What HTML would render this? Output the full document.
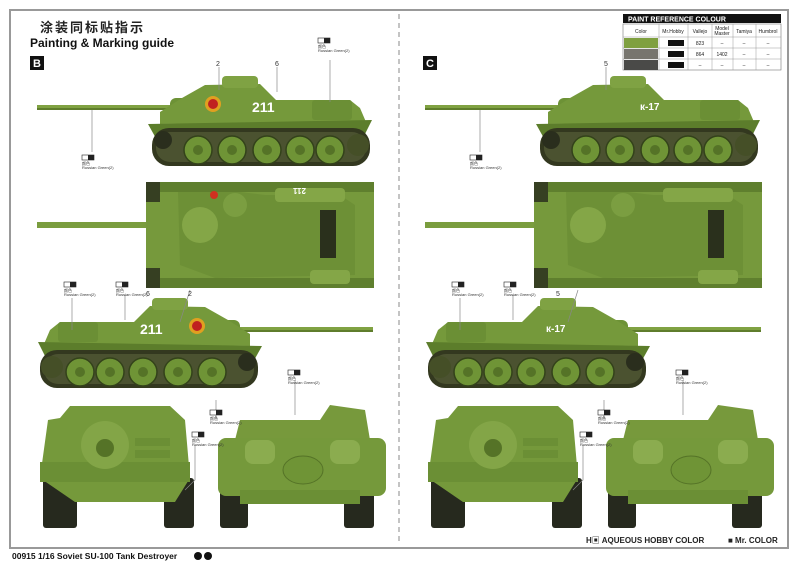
<!DOCTYPE html>
<html><head><meta charset="utf-8"><style>
html,body{margin:0;padding:0;background:#fff;}
svg{display:block;}
text{font-family:"Liberation Sans","Noto Sans CJK SC",sans-serif;}
</style></head><body>
<svg width="800" height="562" viewBox="0 0 800 562" xmlns="http://www.w3.org/2000/svg">
<defs>
<g id="side">
  <rect x="37" y="105" width="140" height="5" fill="#80a242"/>
  <rect x="37" y="108" width="140" height="2" fill="#5f7d2c"/>
  <rect x="170" y="98" width="25" height="16" rx="6" fill="#6d9236"/>
  <polygon points="182,98 205,85 260,84 276,100 350,100 360,108 366,122 160,124 160,112" fill="#75993b"/>
  <rect x="222" y="76" width="36" height="12" rx="4" fill="#7fa243"/>
  <rect x="312" y="100" width="40" height="20" rx="3" fill="#6b8f35"/>
  <polygon points="148,124 372,120 362,140 158,142" fill="#5c7d2b"/>
  <rect x="152" y="128" width="218" height="38" rx="17" fill="#33381f"/>
  <rect x="156" y="132" width="210" height="30" rx="14" fill="#4b5230"/>
  <g fill="#6f9436" stroke="#33421a" stroke-width="1.5">
    <circle cx="198" cy="150" r="14"/><circle cx="232" cy="150" r="14"/><circle cx="267" cy="150" r="14"/><circle cx="300" cy="150" r="14"/><circle cx="330" cy="150" r="14"/>
  </g>
  <g fill="#557327"><circle cx="198" cy="150" r="5"/><circle cx="232" cy="150" r="5"/><circle cx="267" cy="150" r="5"/><circle cx="300" cy="150" r="5"/><circle cx="330" cy="150" r="5"/></g>
  <circle cx="163" cy="140" r="9" fill="#2a2e1d"/><circle cx="358" cy="145" r="11" fill="#454f27"/>
</g>
<g id="top">
  <rect x="37" y="222" width="145" height="6" fill="#7a9d3e"/>
  <rect x="146" y="182" width="228" height="106" fill="#76993c"/>
  <rect x="146" y="182" width="228" height="10" fill="#5f7f2e"/>
  <rect x="146" y="278" width="228" height="10" fill="#5f7f2e"/>
  <rect x="146" y="182" width="14" height="20" fill="#363f22"/><rect x="146" y="268" width="14" height="20" fill="#363f22"/>
  <polygon points="178,192 240,192 265,195 340,195 355,205 355,275 215,278 180,265" fill="#6d9036"/>
  <circle cx="200" cy="225" r="18" fill="#84a647"/>
  <circle cx="235" cy="205" r="12" fill="#7b9e41"/>
  <rect x="320" y="210" width="16" height="48" fill="#2a301c"/>
  <rect x="275" y="188" width="70" height="14" rx="4" fill="#84a647"/>
  <rect x="310" y="270" width="40" height="14" rx="4" fill="#84a647"/>
</g>
<g id="front">
  <rect x="43" y="478" width="34" height="50" rx="3" fill="#26291e"/>
  <rect x="164" y="478" width="30" height="50" rx="3" fill="#26291e"/>
  <polygon points="60,418 70,406 170,406 185,420 190,478 175,502 75,502 40,478 48,420" fill="#75993b"/>
  <rect x="40" y="462" width="150" height="20" fill="#6b8f35"/>
  <circle cx="105" cy="445" r="24" fill="#83a547"/><circle cx="105" cy="448" r="9" fill="#557327"/>
  <rect x="135" y="438" width="35" height="8" fill="#6b8f35"/><rect x="135" y="450" width="35" height="8" fill="#6b8f35"/>
</g>
<g id="rear">
  <rect x="220" y="478" width="28" height="50" rx="3" fill="#26291e"/>
  <rect x="344" y="478" width="30" height="50" rx="3" fill="#26291e"/>
  <polygon points="235,440 240,420 320,420 330,405 365,410 370,440" fill="#77993c"/>
  <rect x="218" y="438" width="168" height="58" rx="8" fill="#75993b"/>
  <rect x="245" y="440" width="30" height="24" rx="8" fill="#8bac4f"/><rect x="330" y="440" width="30" height="24" rx="8" fill="#8bac4f"/>
  <ellipse cx="303" cy="470" rx="20" ry="14" fill="#6f9436" stroke="#557327"/>
  <rect x="240" y="490" width="120" height="14" fill="#6b8f35"/>
</g>
<g id="lbl" font-size="4" fill="#333">
  <rect x="0" y="0" width="12" height="5" fill="#fff" stroke="#222" stroke-width="0.6"/><rect x="6" y="0" width="6" height="5" fill="#222"/>
  <text x="0" y="10">颜色</text><text x="0" y="14">Russian Green(2)</text>
</g>
</defs>

<rect x="10" y="10" width="778" height="538" fill="none" stroke="#999" stroke-width="2"/>
<line x1="399" y1="14" x2="399" y2="544" stroke="#888" stroke-dasharray="5,4"/>

<text x="40" y="32" font-size="13" font-weight="bold" fill="#222" letter-spacing="2">涂装同标贴指示</text>
<text x="30" y="47" font-size="12" font-weight="bold" fill="#111">Painting &amp; Marking guide</text>
<rect x="30" y="56" width="14" height="14" fill="#111"/><text x="33" y="67" font-size="11" font-weight="bold" fill="#fff">B</text>
<rect x="423" y="56" width="14" height="14" fill="#111"/><text x="426" y="67" font-size="11" font-weight="bold" fill="#fff">C</text>

<!-- left B -->
<use href="#side"/>
<use href="#top"/>
<use href="#side" transform="translate(410,222) scale(-1,1)"/>
<use href="#front"/><use href="#rear"/>
<circle cx="213" cy="104" r="8" fill="#e0a020"/><circle cx="213" cy="104" r="5" fill="#c02020"/>
<text x="252" y="112" font-size="14" font-weight="bold" fill="#fff">211</text>
<circle cx="197" cy="326" r="8" fill="#e0a020"/><circle cx="197" cy="326" r="5" fill="#c02020"/>
<text x="140" y="334" font-size="14" font-weight="bold" fill="#fff">211</text>
<circle cx="214" cy="195" r="4" fill="#d03020"/>
<text x="290" y="194" font-size="8" font-weight="bold" fill="#fff" transform="rotate(180 298 191)">211</text>
<!-- right C -->
<g transform="translate(388,0)">
<use href="#side"/><use href="#top"/>
<use href="#side" transform="translate(410,222) scale(-1,1)"/>
<use href="#front"/><use href="#rear"/>
</g>
<text x="640" y="110" font-size="10" font-weight="bold" fill="#fff">к-17</text>
<text x="546" y="332" font-size="10" font-weight="bold" fill="#fff">к-17</text>

<!-- leaders -->
<g stroke="#888" stroke-width="0.7" fill="none">
<line x1="92" y1="110" x2="92" y2="152"/><line x1="330" y1="60" x2="330" y2="102"/>
<line x1="480" y1="110" x2="480" y2="152"/>
<line x1="219" y1="67" x2="219" y2="90"/><line x1="277" y1="67" x2="277" y2="92"/><line x1="606" y1="67" x2="606" y2="90"/>
<line x1="72" y1="298" x2="72" y2="330"/><line x1="125" y1="295" x2="125" y2="320"/>
<line x1="460" y1="298" x2="460" y2="330"/><line x1="513" y1="295" x2="513" y2="320"/>
<line x1="190" y1="290" x2="180" y2="322"/><line x1="578" y1="290" x2="568" y2="322"/>
<line x1="295" y1="380" x2="295" y2="415"/><line x1="683" y1="380" x2="683" y2="415"/>
<line x1="216" y1="400" x2="216" y2="420"/><line x1="604" y1="400" x2="604" y2="420"/>
<polyline points="195,445 195,480 185,490"/><polyline points="583,445 583,480 573,490"/>
</g>
<g font-size="7" fill="#333">
<text x="216" y="66">2</text><text x="275" y="66">6</text><text x="604" y="66">5</text>
<text x="146" y="296">6</text><text x="188" y="296">2</text><text x="556" y="296">5</text>
</g>
<use href="#lbl" x="318" y="38"/><use href="#lbl" x="82" y="155"/>
<use href="#lbl" x="470" y="155"/>
<use href="#lbl" x="64" y="282"/><use href="#lbl" x="116" y="282"/>
<use href="#lbl" x="452" y="282"/><use href="#lbl" x="504" y="282"/>
<use href="#lbl" x="288" y="370"/><use href="#lbl" x="676" y="370"/>
<use href="#lbl" x="210" y="410"/><use href="#lbl" x="598" y="410"/>
<use href="#lbl" x="192" y="432"/><use href="#lbl" x="580" y="432"/>

<!-- table -->
<g font-size="5" fill="#222" text-anchor="middle">
<rect x="623" y="14" width="158" height="9" fill="#111"/>
<text x="628" y="21.5" font-size="7" font-weight="bold" fill="#fff" text-anchor="start">PAINT  REFERENCE COLOUR</text>
<rect x="623" y="24" width="158" height="46" fill="#fff" stroke="#777" stroke-width="0.6"/>
<g stroke="#999" stroke-width="0.5">
<line x1="623" y1="37" x2="781" y2="37"/><line x1="623" y1="48" x2="781" y2="48"/><line x1="623" y1="59" x2="781" y2="59"/>
<line x1="659" y1="24" x2="659" y2="70"/><line x1="688" y1="24" x2="688" y2="70"/><line x1="712" y1="24" x2="712" y2="70"/><line x1="733" y1="24" x2="733" y2="70"/><line x1="756" y1="24" x2="756" y2="70"/>
</g>
<rect x="624" y="38" width="34" height="10" fill="#7fa040"/><rect x="624" y="49" width="34" height="10" fill="#77756e"/><rect x="624" y="60" width="34" height="10" fill="#4a4a48"/>
<text x="641" y="33">Color</text><text x="673" y="33">Mr.Hobby</text><text x="700" y="33">Vallejo</text><text x="722" y="30">Model</text><text x="722" y="35">Master</text><text x="744" y="33">Tamiya</text><text x="768" y="33">Humbrol</text>
<text x="700" y="45">823</text><text x="700" y="56">864</text><text x="722" y="56">1402</text>
<text x="722" y="45">–</text><text x="744" y="45">–</text><text x="768" y="45">–</text><text x="744" y="56">–</text><text x="768" y="56">–</text><text x="700" y="67">–</text><text x="722" y="67">–</text><text x="744" y="67">–</text><text x="768" y="67">–</text>
<rect x="668" y="40" width="16" height="6" fill="#111"/><rect x="668" y="51" width="16" height="6" fill="#111"/><rect x="668" y="62" width="16" height="6" fill="#111"/>
</g>

<text x="586" y="543" font-size="8" font-weight="bold" fill="#222">H▣  AQUEOUS HOBBY COLOR</text>
<text x="728" y="543" font-size="8" font-weight="bold" fill="#222">■  Mr. COLOR</text>
<text x="12" y="559" font-size="8.5" font-weight="bold" fill="#111">00915  1/16  Soviet SU-100 Tank Destroyer</text>
<circle cx="198" cy="556" r="4" fill="#111"/><circle cx="208" cy="556" r="4" fill="#111"/>
</svg>
</body></html>
